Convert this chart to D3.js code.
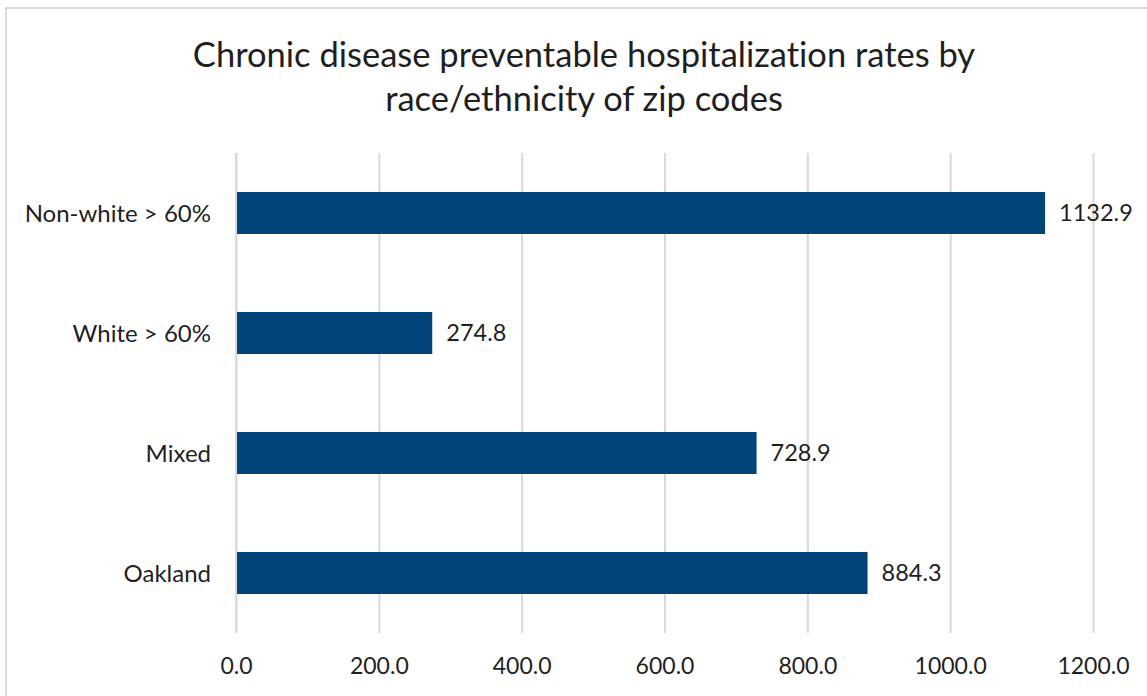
<!DOCTYPE html>
<html>
<head>
<meta charset="utf-8">
<script src="https://cdn.jsdelivr.net/npm/d3@7"></script>
<style>
  html, body { margin: 0; padding: 0; background: #fff; }
  svg { display: block; }
  text { font-family: Lato, "Open Sans", sans-serif; fill: #1f1f1f; font-variant-ligatures: none; font-feature-settings: "liga" 0, "clig" 0; }
</style>
</head>
<body>
<svg id="chart" width="1147" height="696"></svg>
<script>
const titleLines = ["Chronic disease preventable hospitalization rates by", "race/ethnicity of zip codes"];
const categories = ["Non-white > 60%", "White > 60%", "Mixed", "Oakland"];
const values = [1132.9, 274.8, 728.9, 884.3];
const tickValues = [0, 200, 400, 600, 800, 1000, 1200];

const svg = d3.select("#chart");
const W = 1147, H = 696;

// outer chart frame
svg.append("rect")
  .attr("x", 6).attr("y", 8)
  .attr("width", W + 20).attr("height", H + 20)
  .attr("fill", "#fff")
  .attr("stroke", "#d9d9d9").attr("stroke-width", 2);

const x = d3.scaleLinear().domain([0, 1200]).range([236, 1093]);
const y = d3.scaleBand().domain(categories).range([153, 633])
  .paddingInner(0.65).paddingOuter(0.325);

// title
svg.append("g").selectAll("text").data(titleLines).join("text")
  .attr("x", 584)
  .attr("y", (d, i) => 67 + i * 44)
  .attr("text-anchor", "middle")
  .attr("font-size", 34.5)
  .text(d => d);

// gridlines
const grid = d3.axisBottom(x).tickValues(tickValues).tickSize(-(633 - 153)).tickFormat("");
svg.append("g")
  .attr("transform", "translate(0,633)")
  .call(grid)
  .call(g => g.select(".domain").remove())
  .call(g => g.selectAll(".tick line").attr("stroke", "#d9d9d9").attr("stroke-width", 2));

// x axis labels
const xAxis = d3.axisBottom(x).tickValues(tickValues).tickSize(0).tickPadding(0)
  .tickFormat(d => d.toFixed(1));
svg.append("g")
  .attr("transform", "translate(0,674)")
  .call(xAxis)
  .call(g => g.select(".domain").remove())
  .call(g => g.selectAll(".tick text").attr("font-size", 23).attr("dy", 0)
    .style("font-family", "Lato, 'Open Sans', sans-serif").attr("fill", "#1f1f1f"));

// bars
svg.append("g").selectAll("rect").data(values).join("rect")
  .attr("x", x(0))
  .attr("y", (d, i) => y(categories[i]))
  .attr("width", d => x(d) - x(0))
  .attr("height", y.bandwidth())
  .attr("fill", "#00447A");

// value labels
svg.append("g").selectAll("text").data(values).join("text")
  .attr("x", d => x(d) + 14)
  .attr("y", (d, i) => y(categories[i]) + y.bandwidth() / 2)
  .attr("dy", "0.36em")
  .attr("font-size", 23.5)
  .text(d => d.toFixed(1));

// category axis labels
const yAxis = d3.axisLeft(y).tickSize(0).tickPadding(25);
svg.append("g")
  .attr("transform", "translate(236,0)")
  .call(yAxis)
  .call(g => g.select(".domain").remove())
  .call(g => g.selectAll(".tick text").attr("font-size", 24).attr("dy", "0.36em")
    .style("font-family", "Lato, 'Open Sans', sans-serif").attr("fill", "#1f1f1f"));

// axis line at zero
svg.append("line")
  .attr("x1", x(0)).attr("x2", x(0)).attr("y1", 153).attr("y2", 633)
  .attr("stroke", "#d9d9d9").attr("stroke-width", 2);
</script>
</body>
</html>
